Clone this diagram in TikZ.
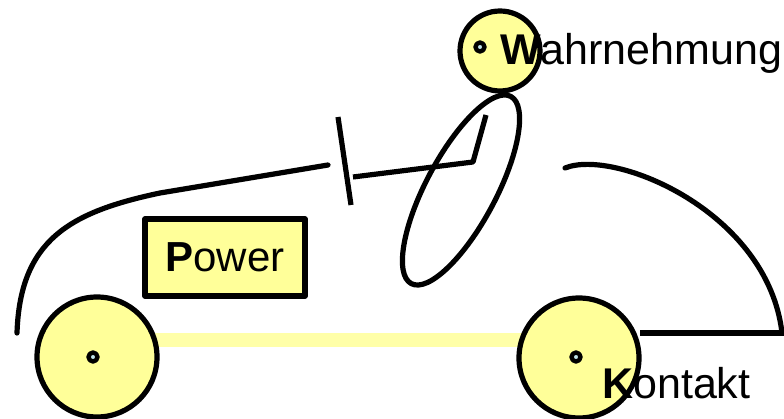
\documentclass[tikz,border=0pt]{standalone}
\usepackage{fontspec}
\setmainfont{Liberation Sans}
\begin{document}
\begin{tikzpicture}[x=1pt,y=-1pt,
  line join=round,
  outline/.style={draw=black, line width=5.2pt},
  bodyline/.style={draw=black, line width=5.2pt, line cap=round},
  wheel/.style={circle, outline, fill=paleyellow, inner sep=0pt, minimum size=120pt},
  hub/.style={circle, draw=black, line width=4.4pt, fill=hubblue, inner sep=0pt, minimum size=9pt},
  label/.style={font=\fontsize{43}{50}\selectfont, inner sep=0pt, anchor=base west},
  ]
\definecolor{paleyellow}{HTML}{FFFF99}
\definecolor{axleyellow}{HTML}{FFFFA8}
\definecolor{hubblue}{HTML}{BFE3EA}
\useasboundingbox (0,0) rectangle (784,419);

% axle between the wheels
\coordinate (axleL) at (150,340);
\coordinate (axleR) at (525,340);
\draw[axleyellow, line width=14pt] (axleL) -- (axleR);

% wheels
\node[wheel] (lwheel) at (97,357) {};
\node[wheel] (rwheel) at (579,358) {};
\node[hub] (lhub) at (93,357) {};
\node[hub] (rhub) at (576,357) {};

% car body: bonnet and roof line
\coordinate (front) at (17,333);
\coordinate (roofend) at (328,165);
\draw[bodyline] (front) .. controls (20,240) and (70,212) .. (160,193) -- (roofend);

% windscreen bar and steering arm
\coordinate (barT) at (338,117);
\coordinate (barB) at (351,205);
\draw[bodyline, line cap=butt] (barT) -- (barB);
\coordinate (armS) at (353,177);
\coordinate (elbow) at (473,162);
\coordinate (shoulder) at (486,115);
\draw[bodyline, line cap=butt] (armS) -- (elbow) -- (shoulder);

% rear of the car
\coordinate (rearS) at (565,168);
\coordinate (rearE) at (782,333);
\coordinate (sill) at (640,333);
\draw[bodyline] (rearS) .. controls (615,148) and (768,212) .. (rearE);
\draw[outline, line cap=butt] (sill) -- (784,333);

% driver: body and head
\coordinate (torso) at (461,190);
\draw[outline, rotate around={62:(torso)}] (torso) ellipse [x radius=106pt, y radius=35pt];
\node[circle, outline, fill=paleyellow, inner sep=0pt, minimum size=80pt] (head) at (500,51) {};
\node[hub] (eye) at (480,47) {};

% engine box
\node[outline, fill=paleyellow, minimum width=160pt, minimum height=77pt, inner sep=0pt,
      font=\fontsize{42}{50}\selectfont] (power) at (225,257.5) {\textbf{P}ower};

% labels
\node[label] (wahr) at (500,65) {\textbf{W}ahrnehmung};
\node[label] (kontakt) at (602,398) {\textbf{K}ontakt};
\end{tikzpicture}
\end{document}
